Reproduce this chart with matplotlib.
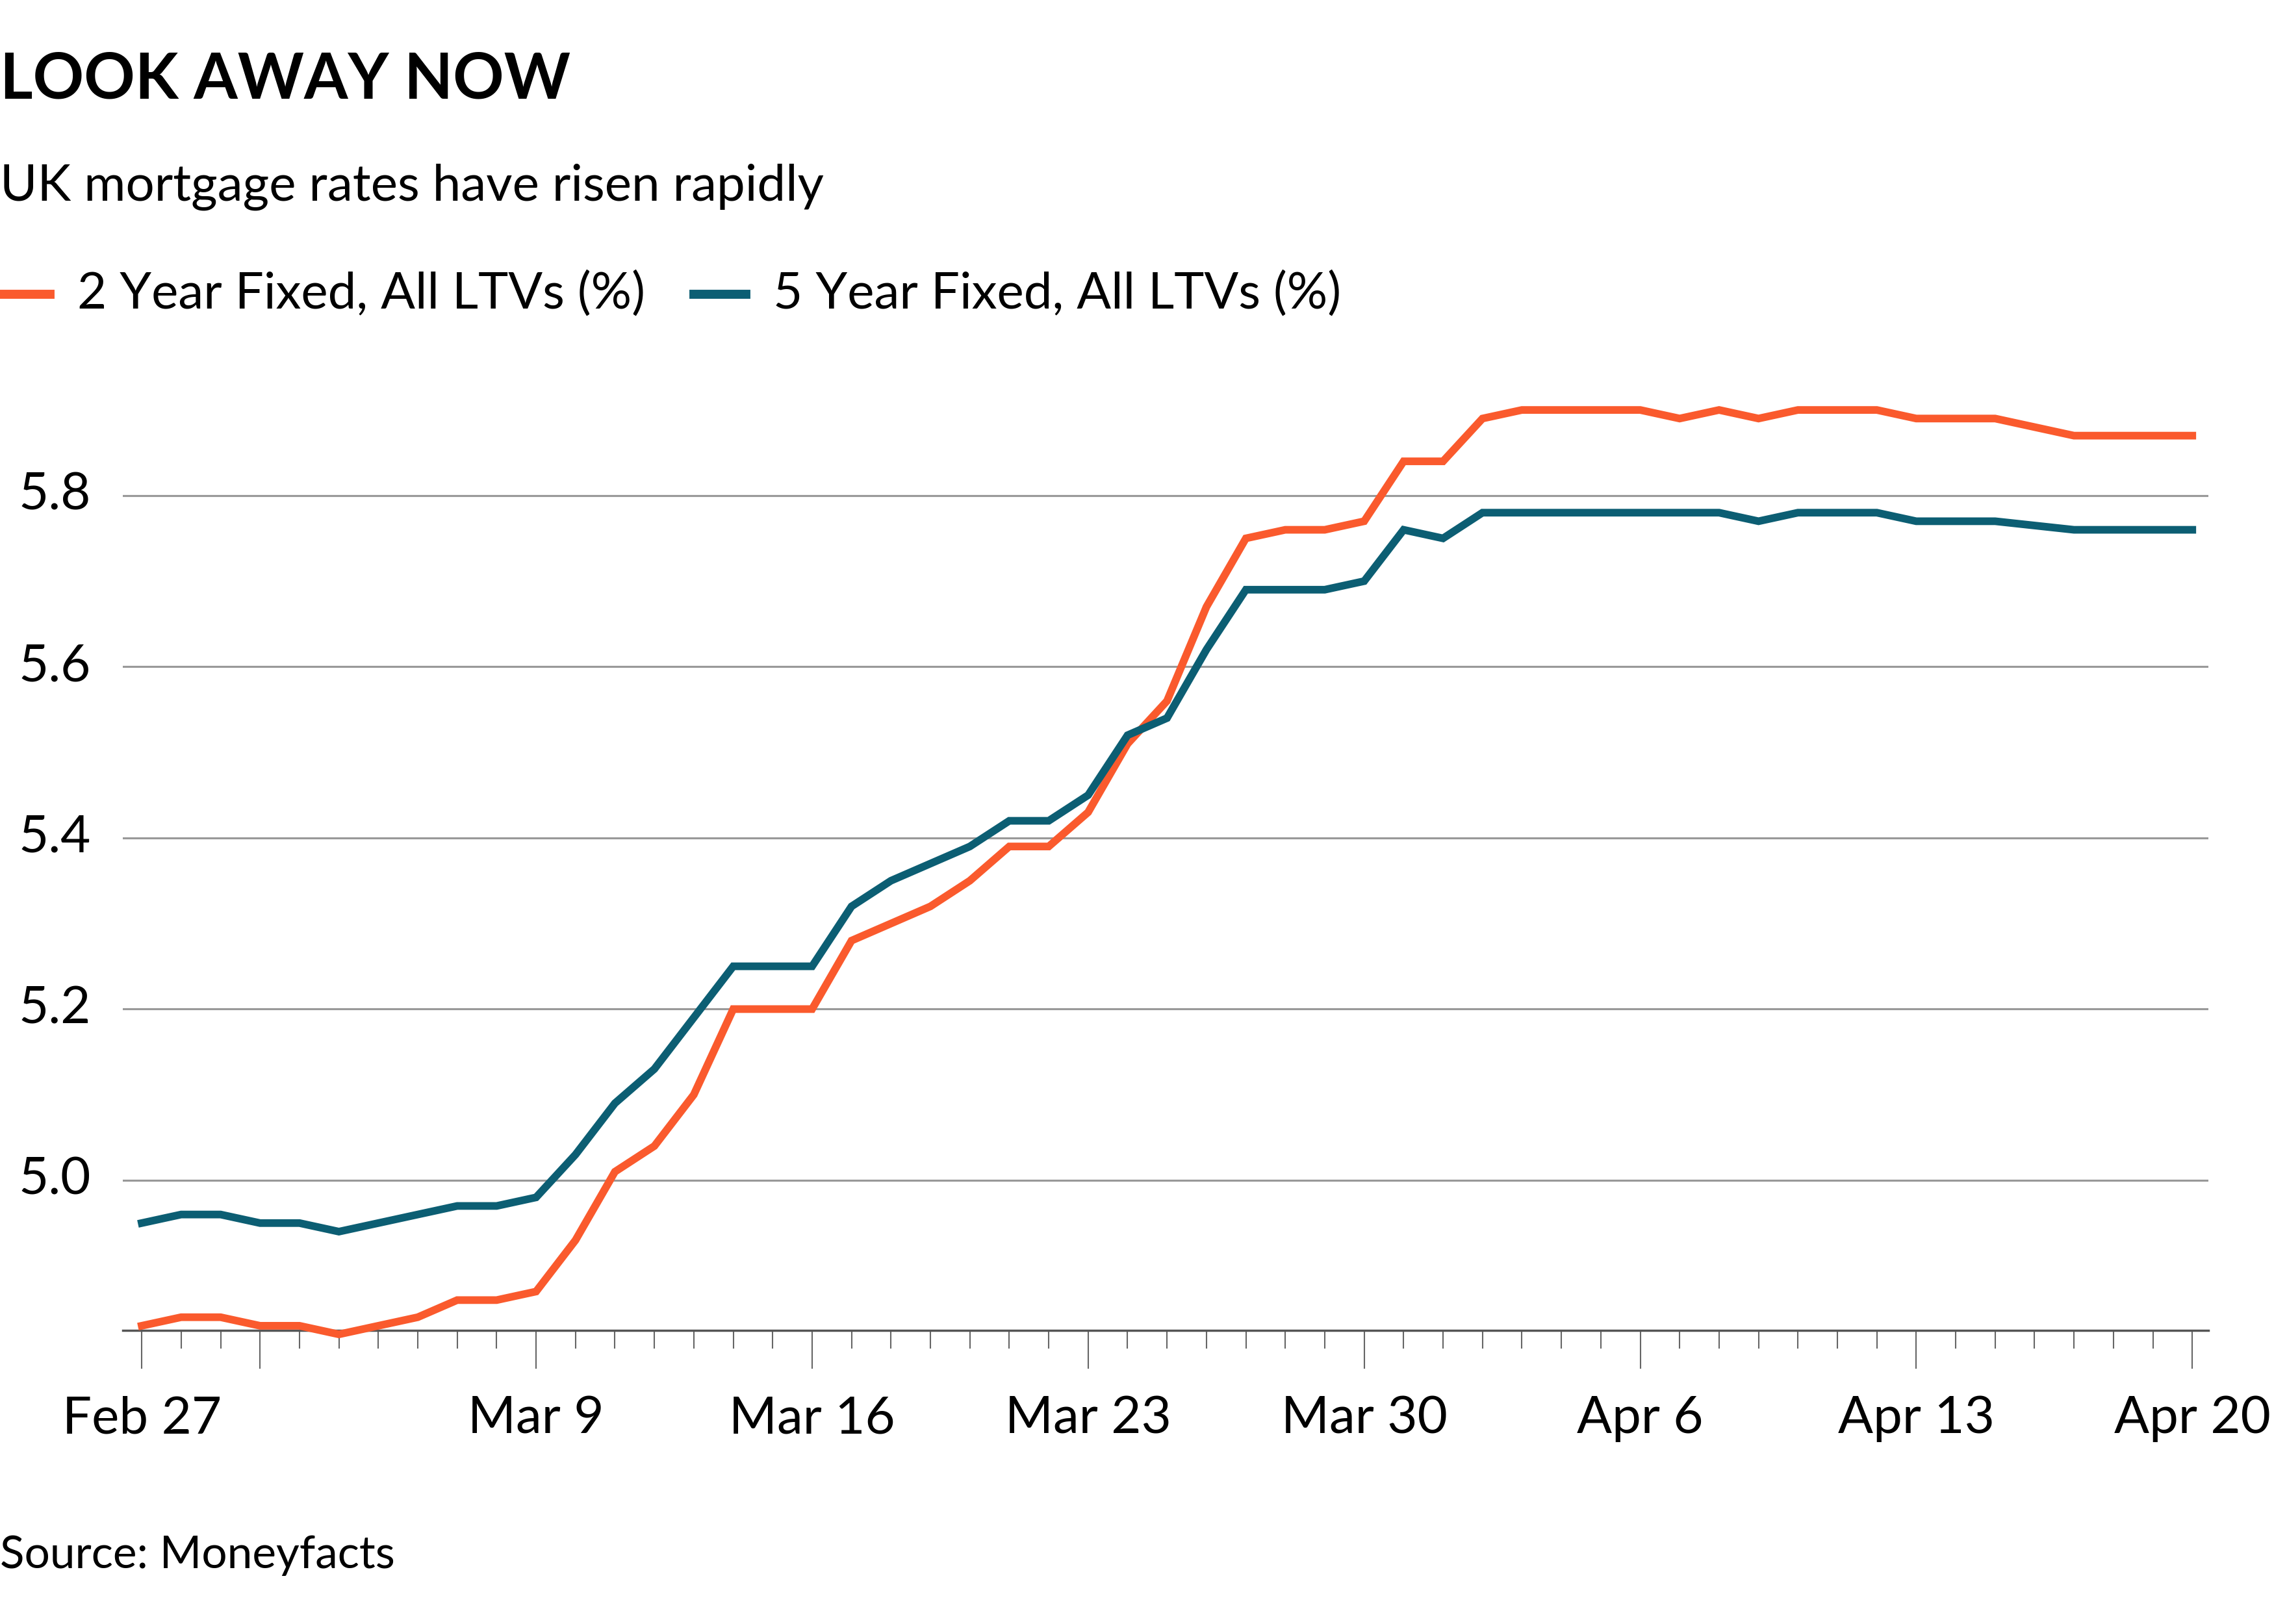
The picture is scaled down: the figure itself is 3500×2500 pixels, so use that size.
import matplotlib
matplotlib.use("Agg")
import matplotlib.pyplot as plt
import matplotlib.transforms as mtransforms
import numpy as np

plt.rcParams['font.family'] = ['Lato', 'DejaVu Sans']

two_year = [4.83,4.84,4.84,4.83,4.83,4.82,4.83,4.84,4.86,4.86,4.87,4.93,5.01,5.04,5.10,5.20,5.20,5.20,
            5.28,5.30,5.32,5.35,5.39,5.39,5.43,5.51,5.56,5.67,5.75,5.76,5.76,5.77,5.84,5.84,5.89,5.90,
            5.90,5.90,5.90,5.89,5.90,5.89,5.90,5.90,5.90,5.89,5.89,5.89,5.88,5.87,5.87,5.87,5.87]
five_year = [4.95,4.96,4.96,4.95,4.95,4.94,4.95,4.96,4.97,4.97,4.98,5.03,5.09,5.13,5.19,5.25,5.25,5.25,
             5.32,5.35,5.37,5.39,5.42,5.42,5.45,5.52,5.54,5.62,5.69,5.69,5.69,5.70,5.76,5.75,5.78,5.78,
             5.78,5.78,5.78,5.78,5.78,5.77,5.78,5.78,5.78,5.77,5.77,5.77,5.765,5.76,5.76,5.76,5.76]
tick_labels = ["Feb 27", "Mar 9", "Mar 16", "Mar 23", "Mar 30", "Apr 6", "Apr 13", "Apr 20"]
tick_idx = [0, 10, 17, 24, 31, 38, 45, 52]
long_ticks = [0, 3, 10, 17, 24, 31, 38, 45, 52]
y_ticks = [5.0, 5.2, 5.4, 5.6, 5.8]

ORANGE = "#FA5A2D"
TEAL = "#0C5E73"

fig = plt.figure(figsize=(14, 10), dpi=250)
ax = fig.add_axes([0.054, 0.181, 0.917, 0.585])
x = np.arange(len(two_year))
ax.plot(x, two_year, color=ORANGE, lw=3.4, solid_joinstyle='miter', clip_on=False, zorder=3)
ax.plot(x, five_year, color=TEAL, lw=3.4, solid_joinstyle='miter', clip_on=False, zorder=3)
ax.set_xlim(-0.48, 52.4)
ax.set_ylim(4.825, 5.935)
for s in ['top', 'right', 'left']:
    ax.spines[s].set_visible(False)
ax.spines['bottom'].set_color('#555555')
ax.spines['bottom'].set_linewidth(1.0)
for yv in y_ticks:
    ax.axhline(yv, color='#999999', lw=0.9, zorder=1)
ax.set_yticks([])
ax.set_xticks(x, minor=True)
ax.tick_params(axis='x', which='minor', length=8, width=0.6, color='#666666')
ax.set_xticks(long_ticks)
ax.set_xticklabels([tick_labels[tick_idx.index(i)] if i in tick_idx else "" for i in long_ticks])
ax.tick_params(axis='x', which='major', length=17, width=0.6, color='#666666', labelsize=23, pad=12)
trans = mtransforms.blended_transform_factory(fig.transFigure, ax.transData)
for yv in y_ticks:
    ax.text(0.008, yv, f"{yv:.1f}", transform=trans, fontsize=23, va='center', ha='left')

fig.text(0.0, 0.951, "LOOK AWAY NOW", fontsize=28, fontweight='bold', va='center', ha='left')
fig.text(0.0, 0.885, "UK mortgage rates have risen rapidly", fontsize=22.5, va='center', ha='left')
fig.lines.append(plt.Line2D([0.0, 0.022], [0.819, 0.819], color=ORANGE, lw=4, transform=fig.transFigure))
fig.text(0.034, 0.819, "2 Year Fixed, All LTVs (%)", fontsize=22.5, va='center', ha='left')
fig.lines.append(plt.Line2D([0.305, 0.328], [0.819, 0.819], color=TEAL, lw=4, transform=fig.transFigure))
fig.text(0.34, 0.819, "5 Year Fixed, All LTVs (%)", fontsize=22.5, va='center', ha='left')
fig.text(0.0, 0.042, "Source: Moneyfacts", fontsize=20, va='center', ha='left')

fig.savefig("out.png", dpi=250, facecolor='white')
